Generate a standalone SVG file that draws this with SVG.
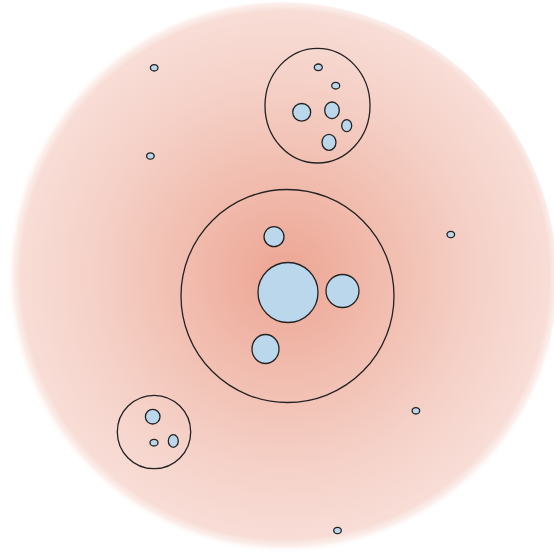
<svg xmlns="http://www.w3.org/2000/svg" width="554" height="558" viewBox="0 0 554 558">
<defs>
<radialGradient id="bg" cx="285" cy="275" r="278" gradientUnits="userSpaceOnUse">
<stop offset="0" stop-color="#eda593"/>
<stop offset="0.35" stop-color="#f1bcae"/>
<stop offset="0.7" stop-color="#f5d1c8"/>
<stop offset="0.95" stop-color="#f8ddd6"/>
<stop offset="0.975" stop-color="#fae6e1" stop-opacity="0.7"/>
<stop offset="1" stop-color="#ffffff" stop-opacity="0"/>
</radialGradient>
<style>
.cell{fill:#bbd7ec;stroke:#222;stroke-width:1.3}
.ring{fill:none;stroke:#222;stroke-width:1.3}
</style>
</defs>
<rect width="554" height="558" fill="#ffffff"/>
<g id="outer">
<ellipse cx="281" cy="280" rx="276" ry="278" fill="url(#bg)"/>
</g>
<g id="center">
<circle class="ring" cx="287.5" cy="296" r="106.5"/>
<circle class="cell" cx="288" cy="292.5" r="30"/>
<circle class="cell" cx="342.5" cy="291" r="16.5"/>
<circle class="cell" cx="274" cy="236.7" r="10"/>
<ellipse class="cell" cx="265.5" cy="349" rx="13.5" ry="14.5"/>
</g>
<g id="cluster-top">
<ellipse class="ring" cx="317.5" cy="105.7" rx="52.5" ry="57.3"/>
<ellipse class="cell" cx="318.3" cy="67.3" rx="4" ry="3.3"/>
<ellipse class="cell" cx="335.7" cy="85.7" rx="4" ry="3.3"/>
<ellipse class="cell" cx="301.7" cy="112.3" rx="9" ry="8.8"/>
<ellipse class="cell" cx="332" cy="110.3" rx="7.3" ry="8.3"/>
<ellipse class="cell" cx="346.7" cy="125.7" rx="5" ry="6"/>
<ellipse class="cell" cx="329" cy="142.3" rx="7" ry="8"/>
</g>
<g id="cluster-bottom">
<circle class="ring" cx="154" cy="432" r="36.7"/>
<circle class="cell" cx="152.7" cy="416.7" r="7.3"/>
<ellipse class="cell" cx="154" cy="442.7" rx="4" ry="3.3"/>
<ellipse class="cell" cx="173.3" cy="441" rx="5" ry="6.3"/>
</g>
<g id="free">
<ellipse class="cell" cx="154.2" cy="67.8" rx="3.8" ry="3.2"/>
<ellipse class="cell" cx="150.4" cy="156" rx="3.8" ry="3.2"/>
<ellipse class="cell" cx="450.8" cy="234.5" rx="3.8" ry="3.2"/>
<ellipse class="cell" cx="415.9" cy="410.8" rx="3.8" ry="3.2"/>
<ellipse class="cell" cx="337.5" cy="530.5" rx="3.8" ry="3.2"/>
</g>
</svg>
